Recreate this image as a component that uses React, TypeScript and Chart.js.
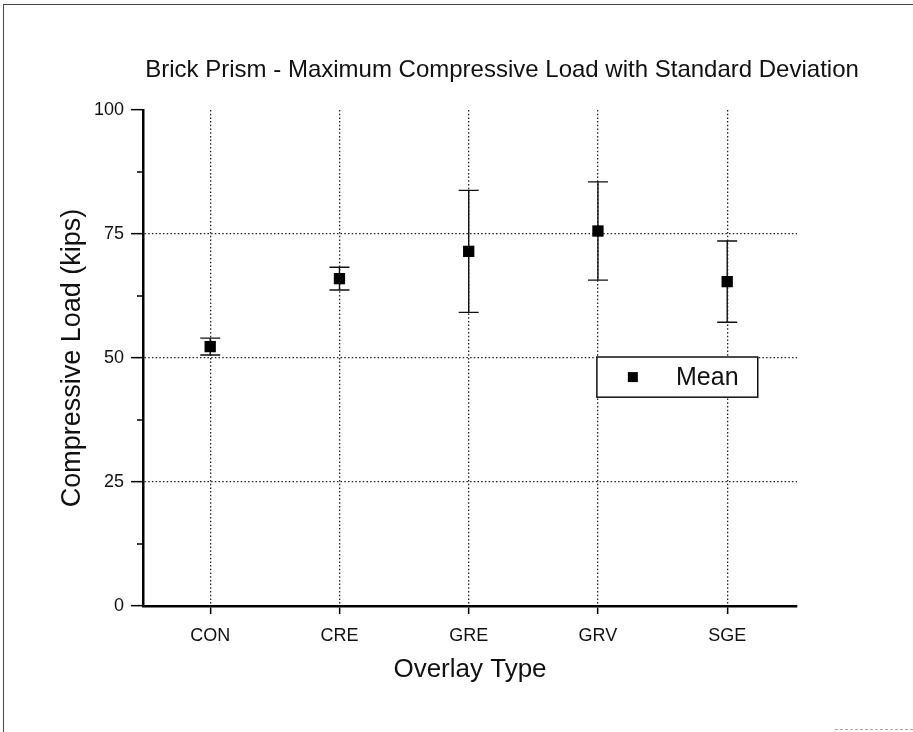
import React, { useEffect, useRef } from "react";
import { Chart, registerables } from "chart.js";

Chart.register(...registerables);

const FONT = '"Liberation Sans", Arial, Helvetica, sans-serif';

const TITLE = "Brick Prism - Maximum Compressive Load with Standard Deviation";
const X_TITLE = "Overlay Type";
const Y_TITLE = "Compressive Load (kips)";
const LEGEND_LABEL = "Mean";

const categories = ["CON", "CRE", "GRE", "GRV", "SGE"];
const means = [52.3, 66.0, 71.5, 75.6, 65.4];
const stdDevs = [1.7, 2.3, 12.3, 9.9, 8.2];

const yTicks = [0, 25, 50, 75, 100];
const yMinorTicks = [12.5, 37.5, 62.5, 87.5];
const yGridValues = [25, 50, 75];

const errorBarPlugin = {
  id: "errorBars",
  beforeDatasetsDraw(chart: any) {
    const { ctx, scales } = chart;
    const xs = scales.x;
    const ys = scales.y;
    ctx.save();
    ctx.strokeStyle = "#111";
    ctx.lineWidth = 1.4;
    ctx.setLineDash([]);
    means.forEach((m, i) => {
      const x = xs.getPixelForValue(i);
      const yt = ys.getPixelForValue(m + stdDevs[i]);
      const yb = ys.getPixelForValue(m - stdDevs[i]);
      const cap = 10;
      ctx.beginPath();
      ctx.moveTo(x, yt);
      ctx.lineTo(x, yb);
      ctx.moveTo(x - cap, yt);
      ctx.lineTo(x + cap, yt);
      ctx.moveTo(x - cap, yb);
      ctx.lineTo(x + cap, yb);
      ctx.stroke();
    });
    ctx.restore();
  },
};

const minorTickPlugin = {
  id: "minorTicks",
  afterDraw(chart: any) {
    const { ctx, scales, chartArea } = chart;
    ctx.save();
    ctx.strokeStyle = "#000";
    ctx.lineWidth = 1.5;
    ctx.setLineDash([]);
    yMinorTicks.forEach((v) => {
      const y = scales.y.getPixelForValue(v);
      ctx.beginPath();
      ctx.moveTo(chartArea.left - 6, y);
      ctx.lineTo(chartArea.left, y);
      ctx.stroke();
    });
    ctx.restore();
  },
};

const titlePlugin = {
  id: "offsetTitle",
  afterDraw(chart: any) {
    const { ctx, chartArea: a } = chart;
    const w = a.right - a.left;
    ctx.save();
    ctx.fillStyle = "#111";
    ctx.font = `24px ${FONT}`;
    ctx.textAlign = "center";
    ctx.textBaseline = "middle";
    ctx.fillText(TITLE, a.left + 0.549 * w, a.top - 40);
    ctx.restore();
  },
};

const boxLegendPlugin = {
  id: "boxLegend",
  afterDraw(chart: any) {
    const { ctx, chartArea: a } = chart;
    const w = a.right - a.left;
    const h = a.bottom - a.top;
    const x0 = a.left + 0.694 * w;
    const x1 = a.left + 0.94 * w;
    const y0 = a.top + 0.498 * h;
    const y1 = a.top + 0.579 * h;
    const cy = (y0 + y1) / 2;
    ctx.save();
    ctx.fillStyle = "#fff";
    ctx.fillRect(x0, y0, x1 - x0, y1 - y0);
    ctx.strokeStyle = "#111";
    ctx.lineWidth = 1.5;
    ctx.setLineDash([]);
    ctx.strokeRect(x0, y0, x1 - x0, y1 - y0);
    const mx = a.left + 0.749 * w;
    ctx.fillStyle = "#000";
    ctx.fillRect(mx - 5, cy - 5, 10, 10);
    ctx.font = `25px ${FONT}`;
    ctx.textAlign = "left";
    ctx.textBaseline = "middle";
    ctx.fillStyle = "#111";
    ctx.fillText(LEGEND_LABEL, a.left + 0.815 * w, cy + 1);
    ctx.restore();
  },
};

export default function App() {
  const canvasRef = useRef<HTMLCanvasElement | null>(null);

  useEffect(() => {
    if (!canvasRef.current) return;
    const chart = new Chart(canvasRef.current, {
      type: "scatter",
      data: {
        datasets: [
          {
            label: LEGEND_LABEL,
            data: means.map((m, i) => ({ x: i, y: m })),
            pointStyle: "rect",
            pointRadius: 8,
            pointHoverRadius: 8,
            backgroundColor: "#000",
            borderColor: "#000",
            borderWidth: 0,
          },
        ],
      },
      options: {
        responsive: false,
        animation: false,
        events: [],
        layout: { padding: { top: 110, right: 116, bottom: 0, left: 0 } },
        plugins: {
          legend: { display: false },
          title: { display: false },
          tooltip: { enabled: false },
        },
        scales: {
          x: {
            type: "linear",
            min: -0.52,
            max: 4.54,
            afterBuildTicks: (s: any) => {
              s.ticks = categories.map((_, i) => ({ value: i }));
            },
            afterFit: (s: any) => {
              s.height = 126;
            },
            ticks: {
              callback: (v: any) => categories[Math.round(Number(v))],
              font: { family: FONT, size: 18 },
              color: "#111",
              padding: 11,
              maxRotation: 0,
              autoSkip: false,
            },
            grid: {
              color: "#222",
              lineWidth: 1.3,
              tickColor: "#000",
              tickLength: 8,
              tickWidth: 1.5,
              tickBorderDash: [],
            },
            border: { display: true, color: "#000", width: 2.5, dash: [1.5, 2.2] },
            title: {
              display: true,
              text: X_TITLE,
              font: { family: FONT, size: 26, lineHeight: 1.2 },
              color: "#111",
              padding: { top: 0, bottom: 47 },
            },
          },
          y: {
            type: "linear",
            min: 0,
            max: 100,
            afterBuildTicks: (s: any) => {
              s.ticks = yTicks.map((v) => ({ value: v }));
            },
            afterFit: (s: any) => {
              s.width = 143;
            },
            ticks: {
              font: { family: FONT, size: 18 },
              color: "#111",
              padding: 7,
            },
            grid: {
              color: (c: any) =>
                yGridValues.includes(c.tick?.value) ? "#222" : "rgba(0,0,0,0)",
              lineWidth: 1.3,
              tickColor: "#000",
              tickLength: 12,
              tickWidth: 1.5,
              tickBorderDash: [],
            },
            border: { display: true, color: "#000", width: 2.5, dash: [1.5, 2.2] },
            title: {
              display: true,
              text: Y_TITLE,
              font: { family: FONT, size: 27, lineHeight: 1.2 },
              color: "#111",
              padding: { top: 56, bottom: 0 },
            },
          },
        },
      } as any,
      plugins: [errorBarPlugin, minorTickPlugin, titlePlugin, boxLegendPlugin],
    });
    return () => chart.destroy();
  }, []);

  return (
    <div
      style={{
        position: "absolute",
        left: 0,
        top: 0,
        width: 913,
        height: 732,
        overflow: "hidden",
        background: "#fff",
      }}
    >
      <div
        style={{
          position: "absolute",
          left: 3,
          top: 4,
          width: 912,
          height: 730,
          borderTop: "1.5px solid #444",
          borderLeft: "1.5px solid #444",
          boxSizing: "border-box",
        }}
      />
      <div
        style={{
          position: "absolute",
          left: 835,
          top: 729,
          width: 78,
          height: 0,
          borderTop: "1px dashed #aaa",
        }}
      />
      <canvas
        ref={canvasRef}
        width={913}
        height={732}
        style={{ position: "absolute", left: 0, top: 0, display: "block" }}
      />
    </div>
  );
}
